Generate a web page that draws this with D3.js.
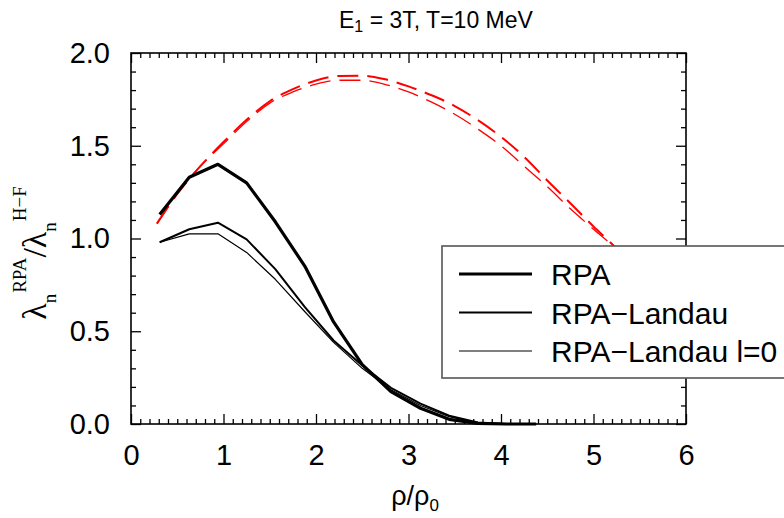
<!DOCTYPE html>
<html>
<head>
<meta charset="utf-8">
<script src="https://cdn.jsdelivr.net/npm/d3@7"></script>
<style>
  body { margin: 0; background: #fff; }
  svg text { font-family: "Liberation Sans", Arial, sans-serif; }
</style>
</head>
<body>
<div id="chart"></div>
<script>
//
// data
//
const rho = [0.31, 0.63, 0.94, 1.25, 1.56, 1.88, 2.19, 2.5, 2.81, 3.13, 3.44, 3.75, 4.06, 4.38]
const rpa = [1.13, 1.33, 1.40, 1.30, 1.09, 0.85, 0.55, 0.32, 0.175, 0.085, 0.025, 0.003, 0, 0]
const rpaLandau = [0.98, 1.05, 1.085, 0.995, 0.835, 0.63, 0.45, 0.315, 0.195, 0.11, 0.045, 0.008, 0, 0]
const rpaLandau0 = [0.98, 1.025, 1.025, 0.925, 0.78, 0.605, 0.44, 0.30, 0.185, 0.10, 0.04, 0.005, 0, 0]

const rhoRed = [0.28, 0.5, 0.75, 1.0, 1.25, 1.5, 1.75, 2.0, 2.25, 2.5, 2.75, 3.0, 3.25, 3.5, 3.75, 4.0, 4.25, 4.5, 4.75, 5.0, 5.25, 5.5, 5.75]
const redUpper = [1.08, 1.24, 1.39, 1.52, 1.64, 1.74, 1.805, 1.852, 1.876, 1.878, 1.858, 1.82, 1.772, 1.714, 1.638, 1.548, 1.44, 1.313, 1.19, 1.065, 0.945, 0.80, 0.62]
const redLower = [1.08, 1.24, 1.39, 1.51, 1.63, 1.73, 1.79, 1.832, 1.853, 1.853, 1.83, 1.79, 1.735, 1.67, 1.59, 1.50, 1.39, 1.28, 1.16, 1.05, 0.94, 0.80, 0.62]

const xTicks = [0, 1, 2, 3, 4, 5, 6]
const yTicks = [0, 0.5, 1.0, 1.5, 2.0]
const legendLabels = ["RPA", "RPA\u2212Landau", "RPA\u2212Landau l=0"]

const W = 784, H = 518
const margin = { left: 131, right: 98, top: 53, bottom: 94 }
const width = W - margin.left - margin.right
const height = H - margin.top - margin.bottom

const svg = d3.select("#chart").append("svg")
  .attr("width", W).attr("height", H)

const g = svg.append("g")
  .attr("transform", "translate(" + margin.left + "," + margin.top + ")")

const x = d3.scaleLinear().domain([0, 6]).range([0, width])
const y = d3.scaleLinear().domain([0, 2]).range([height, 0])

// minor ticks every 0.1
const xMinor = d3.range(0, 60).map(function(i) { return i / 10 }).filter(function(v) { return v % 1 !== 0 })
const yMinor = d3.range(0, 20).map(function(i) { return i / 10 }).filter(function(v) { return (v * 2) % 1 !== 0 })

function axisStyle(sel) {
  sel.select(".domain").remove()
  sel.selectAll("line").attr("stroke", "#000").attr("stroke-width", 1.3)
  sel.selectAll("text").attr("font-size", 29).attr("fill", "#000")
    .attr("font-family", "'Liberation Sans', Arial, sans-serif")
}

// bottom
g.append("g").attr("transform", "translate(0," + height + ")")
  .call(d3.axisBottom(x).tickValues(xTicks).tickFormat(d3.format("d")).tickSizeInner(-10).tickSizeOuter(0).tickPadding(20))
  .call(axisStyle)
g.append("g").attr("transform", "translate(0," + height + ")")
  .call(d3.axisBottom(x).tickValues(xMinor).tickFormat("").tickSizeInner(-5).tickSizeOuter(0))
  .call(axisStyle)
// top
g.append("g")
  .call(d3.axisTop(x).tickValues(xTicks).tickFormat("").tickSizeInner(-10).tickSizeOuter(0))
  .call(axisStyle)
g.append("g")
  .call(d3.axisTop(x).tickValues(xMinor).tickFormat("").tickSizeInner(-5).tickSizeOuter(0))
  .call(axisStyle)
// left
g.append("g")
  .call(d3.axisLeft(y).tickValues(yTicks).tickFormat(d3.format(".1f")).tickSizeInner(-10).tickSizeOuter(0).tickPadding(21))
  .call(axisStyle)
g.append("g")
  .call(d3.axisLeft(y).tickValues(yMinor).tickFormat("").tickSizeInner(-5).tickSizeOuter(0))
  .call(axisStyle)
// right
g.append("g").attr("transform", "translate(" + width + ",0)")
  .call(d3.axisRight(y).tickValues(yTicks).tickFormat("").tickSizeInner(-10).tickSizeOuter(0))
  .call(axisStyle)
g.append("g").attr("transform", "translate(" + width + ",0)")
  .call(d3.axisRight(y).tickValues(yMinor).tickFormat("").tickSizeInner(-5).tickSizeOuter(0))
  .call(axisStyle)

g.append("rect")
  .attr("width", width).attr("height", height)
  .attr("fill", "none").attr("stroke", "#000").attr("stroke-width", 1.6)

// curves
const line = d3.line()
  .x(function(d) { return x(d[0]) })
  .y(function(d) { return y(d[1]) })

function pairs(xs, ys) { return xs.map(function(v, i) { return [v, ys[i]] }) }

g.append("path").datum(pairs(rhoRed, redUpper))
  .attr("d", line.curve(d3.curveMonotoneX)).attr("fill", "none")
  .attr("stroke", "#ff0000").attr("stroke-width", 2).attr("stroke-dasharray", "21,9")
g.append("path").datum(pairs(rhoRed, redLower))
  .attr("d", line.curve(d3.curveMonotoneX)).attr("fill", "none")
  .attr("stroke", "#ff0000").attr("stroke-width", 1.3).attr("stroke-dasharray", "21,9")

line.curve(d3.curveLinear)
const blackSeries = [
  { values: rpa, w: 3.2 },
  { values: rpaLandau, w: 2 },
  { values: rpaLandau0, w: 1.2 }
]
g.selectAll(".black")
  .data(blackSeries)
  .enter()
  .append("path")
    .attr("d", function(d) { return line(pairs(rho, d.values)) })
    .attr("fill", "none")
    .attr("stroke", "#000")
    .attr("stroke-width", function(d) { return d.w })
    .attr("stroke-linejoin", "round")

// legend
const legend = svg.append("g")
legend.append("rect")
  .attr("x", 442).attr("y", 246).attr("width", 360).attr("height", 132)
  .attr("fill", "#fff").attr("stroke", "#555").attr("stroke-width", 1.6)
legendLabels.forEach(function(label, i) {
  const cy = 274 + i * 38.5
  legend.append("line")
    .attr("x1", 459).attr("x2", 532).attr("y1", cy).attr("y2", cy)
    .attr("stroke", "#000").attr("stroke-width", blackSeries[i].w)
  legend.append("text")
    .attr("x", 551).attr("y", cy + 11)
    .attr("font-size", 30)
    .text(label)
})

// title
const title = svg.append("text").attr("x", 339).attr("y", 28).attr("font-size", 23)
title.append("tspan").text("E")
title.append("tspan").attr("font-size", 16).attr("dy", 4).text("1")
title.append("tspan").attr("dy", -4).text(" = 3T, T=10 MeV")

// x label
const xl = svg.append("text").attr("x", 415).attr("y", 505)
  .attr("font-size", 27).attr("text-anchor", "middle")
xl.append("tspan").text("\u03c1/\u03c1")
xl.append("tspan").attr("font-size", 17).attr("dy", 6).text("0")

// y label
const yl = svg.append("text")
  .attr("transform", "translate(46,253) rotate(-90)")
  .attr("text-anchor", "middle")
  .style("font-family", "'Liberation Serif', 'Times New Roman', serif")
  .attr("font-size", 34)
yl.append("tspan").text("\u03bb")
yl.append("tspan").attr("font-size", 19).attr("dy", 10).text("n")
yl.append("tspan").attr("font-size", 19).attr("dx", 1).attr("dy", -30).text("RPA")
yl.append("tspan").attr("dy", 20).text("/\u03bb")
yl.append("tspan").attr("font-size", 19).attr("dy", 10).text("n")
yl.append("tspan").attr("font-size", 19).attr("dx", 1).attr("dy", -30).text("H\u2212F")
</script>
</body>
</html>
